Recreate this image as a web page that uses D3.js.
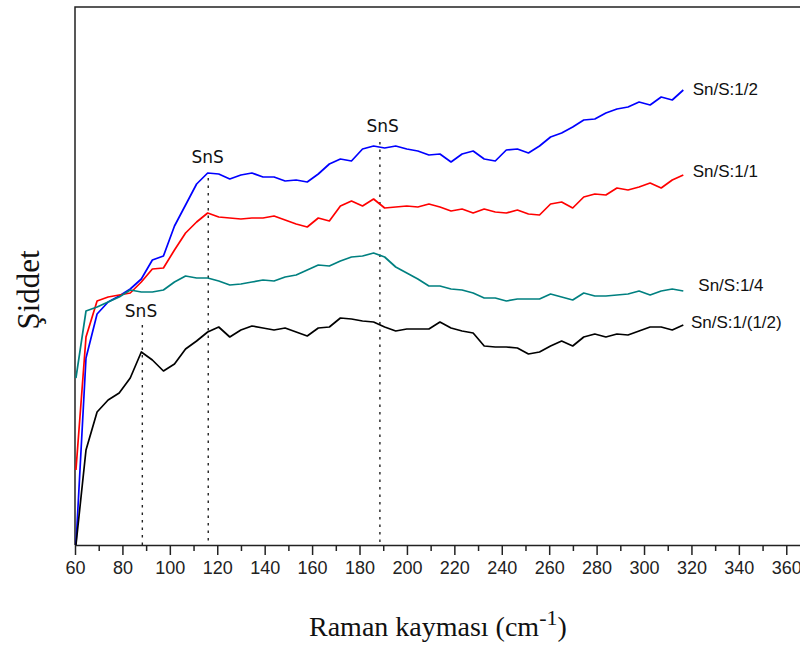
<!DOCTYPE html>
<html>
<head>
<meta charset="utf-8">
<script src="https://cdn.jsdelivr.net/npm/d3@7"></script>
<style>
  html, body { margin: 0; padding: 0; background: #fff; }
  svg { display: block; }
</style>
</head>
<body>
<svg id="chart" width="800" height="646"></svg>
<script>
// Raman shift grid (cm-1), shared by all four spectra
const ramanShift = [
  60.4, 64.64, 69.31, 73.97, 78.64, 83.30, 87.97, 92.63, 97.30, 101.96,
  106.63, 111.29, 115.96, 120.62, 125.29, 129.96, 134.62, 139.29, 143.95, 148.62,
  153.28, 157.95, 162.61, 167.28, 171.94, 176.61, 181.27, 185.94, 190.60, 195.27,
  199.94, 204.60, 209.27, 213.93, 218.60, 223.26, 227.93, 232.59, 237.26, 241.92,
  246.59, 251.25, 255.92, 260.58, 265.25, 269.92, 274.58, 279.25, 283.91, 288.58,
  293.24, 297.91, 302.57, 307.24, 311.90, 316.57
];

// Intensities (arbitrary units)
const ratio12 = [
  0, 187, 231, 243, 249, 256, 266, 285, 289, 319,
  340, 361, 372, 371, 366, 370, 372, 368, 368, 364,
  365, 363, 371, 381, 386, 384, 396, 399, 397, 399,
  396, 394, 390, 391, 383, 391, 394, 386, 384, 395,
  396, 392, 399, 408, 412, 418, 425, 426, 432, 436,
  438, 443, 440, 448, 445, 455
];
const ratio11 = [
  75, 208, 244, 248, 250, 252, 263, 276, 277, 295,
  312, 323, 332, 328, 327, 326, 327, 327, 329, 325,
  321, 318, 327, 324, 339, 344, 339, 346, 337, 338,
  339, 338, 341, 338, 334, 336, 332, 336, 333, 332,
  335, 331, 330, 341, 343, 337, 348, 351, 350, 357,
  355, 358, 362, 357, 365, 370
];
const ratio14 = [
  167, 234, 238, 243, 248, 255, 253, 253, 255, 263,
  269, 267, 267, 264, 260, 261, 263, 265, 264, 268,
  270, 275, 280, 279, 284, 288, 289, 292, 288, 278,
  272, 266, 259, 259, 256, 255, 252, 247, 247, 244,
  246, 246, 246, 251, 248, 245, 252, 249, 249, 250,
  251, 254, 250, 254, 256, 254
];
const ratio1half = [
  0, 95, 133, 145, 152, 167, 193, 185, 174, 181,
  196, 204, 213, 218, 208, 215, 219, 217, 215, 217,
  213, 209, 217, 218, 227, 226, 224, 223, 218, 214,
  216, 216, 216, 223, 217, 214, 212, 199, 198, 198,
  197, 191, 193, 199, 204, 199, 208, 211, 208, 211,
  210, 214, 218, 218, 215, 220
];

const seriesNames = ["Sn/S:1/2", "Sn/S:1/1", "Sn/S:1/4", "Sn/S:1/(1/2)"];
const seriesColors = ["#0000ff", "#ff0000", "#008080", "#000000"];
const seriesValues = [ratio12, ratio11, ratio14, ratio1half];

// SnS band positions (cm-1) and the height where each marker starts
const snsPeaks = [88.4, 116.2, 188.6];
const snsTops = [220, 367, 403];

const xMajorTicks = [60, 80, 100, 120, 140, 160, 180, 200, 220, 240, 260, 280, 300, 320, 340, 360];
const xMinorTicks = [70, 90, 110, 130, 150, 170, 190, 210, 230, 250, 270, 290, 310, 330, 350, 370];

const svg = d3.select("#chart");
const plotLeft = 75, plotTop = 7, plotBottom = 545;

const x = d3.scaleLinear().domain([60, 380]).range([plotLeft, 833.7]);
const y = d3.scaleLinear().domain([0, 538]).range([plotBottom, plotTop]);

// frame (top and left edges)
svg.append("path")
  .attr("d", `M${plotLeft},${plotBottom}V${plotTop}H${x(380)}`)
  .attr("fill", "none").attr("stroke", "#222").attr("stroke-width", 1.5);

// SnS band markers
snsPeaks.forEach((p, i) => {
  svg.append("line")
    .attr("x1", x(p)).attr("x2", x(p))
    .attr("y1", y(snsTops[i])).attr("y2", plotBottom)
    .attr("stroke", "#222").attr("stroke-width", 1.4)
    .attr("stroke-dasharray", "2.5,5");
});

// spectra
const line = d3.line().x((d, i) => x(ramanShift[i])).y(d => y(d));
seriesValues.forEach((vals, i) => {
  svg.append("path")
    .datum(vals)
    .attr("d", line)
    .attr("fill", "none")
    .attr("stroke", seriesColors[i])
    .attr("stroke-width", 1.7)
    .attr("stroke-linejoin", "round");
});

// x axis: major ticks with labels, minor ticks without
const gx = svg.append("g").attr("transform", `translate(0,${plotBottom})`);
gx.call(d3.axisBottom(x).tickValues(xMajorTicks).tickSize(10).tickSizeOuter(0).tickPadding(6));
gx.select(".domain").attr("stroke", "#222").attr("stroke-width", 1.5);
gx.selectAll(".tick line").attr("stroke", "#222").attr("stroke-width", 1.5);
gx.selectAll(".tick text")
  .attr("font-family", "'Liberation Sans', Arial, sans-serif")
  .attr("font-size", 18).attr("fill", "#222");
const gm = svg.append("g").attr("transform", `translate(0,${plotBottom})`);
gm.call(d3.axisBottom(x).tickValues(xMinorTicks).tickSize(6).tickFormat(""));
gm.select(".domain").remove();
gm.selectAll(".tick line").attr("stroke", "#222").attr("stroke-width", 1.5);

// axis titles
const xt = svg.append("text")
  .attr("x", 309).attr("y", 636)
  .attr("font-family", "'Liberation Serif', 'Times New Roman', serif")
  .attr("font-size", 28).attr("fill", "#111");
xt.append("tspan").text("Raman kayması (cm");
xt.append("tspan").attr("font-size", 22).attr("dy", -11).text("-1");
xt.append("tspan").attr("dy", 11).text(")");

svg.append("text")
  .attr("transform", "translate(39,290) rotate(-90)")
  .attr("text-anchor", "middle")
  .attr("font-family", "'Liberation Serif', 'Times New Roman', serif")
  .attr("font-size", 31).attr("fill", "#111")
  .text("Şiddet");

// SnS annotations
const snsLabelPos = [[141, 316.7], [207.7, 163.3], [382.7, 131.7]];
snsLabelPos.forEach(([lx, ly]) => {
  svg.append("text")
    .attr("x", lx).attr("y", ly).attr("text-anchor", "middle")
    .attr("font-family", "'DejaVu Sans', Verdana, sans-serif")
    .attr("font-size", 17).attr("fill", "#111")
    .text("SnS");
});

// series labels at the right end of each spectrum
const labelPos = [[692.7, 95], [692.7, 177.3], [698.3, 290.7], [691, 328.3]];
seriesNames.forEach((name, i) => {
  svg.append("text")
    .attr("x", labelPos[i][0]).attr("y", labelPos[i][1])
    .attr("font-family", "'Liberation Sans', Arial, sans-serif")
    .attr("font-size", 17).attr("fill", "#111")
    .text(name);
});
</script>
</body>
</html>
